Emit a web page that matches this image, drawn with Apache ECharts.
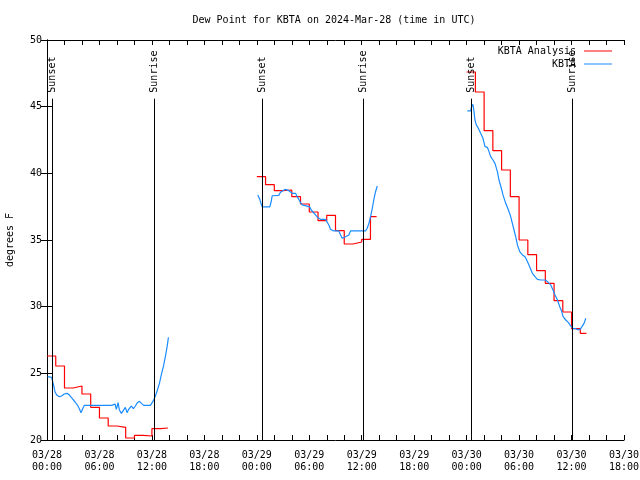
<!DOCTYPE html>
<html>
<head>
<meta charset="utf-8">
<script src="https://cdn.jsdelivr.net/npm/echarts@6/dist/echarts.min.js"></script>
<style>html,body{margin:0;padding:0;background:#fff;}#c{width:640px;height:480px;}</style>
</head>
<body>
<div id="c"></div>
<script>
// Hours since 03/28 00:00 UTC; null separates the daily segments
const analysisHours = [0,1,2,3,4,5,6,7,8,9,10,11,12,13,13.83, null,
  24,25,26,27,28,29,30,31,32,33,34,35,36,37,37.7, null,
  48,49,50,51,52,53,54,55,56,57,58,59,60,61,61.7];
const analysisValues = [26.3,25.55,23.9,24.05,23.45,22.45,21.65,21.05,20.95,20.15,20.35,20.3,20.85,20.9,20.9, null,
  39.75,39.15,38.7,38.75,38.25,37.7,37.1,36.45,36.85,35.7,34.7,34.85,35.05,36.75,36.75, null,
  47.6,46.1,43.2,41.7,40.25,38.25,35.0,33.9,32.7,31.75,30.45,29.6,28.35,28.0,28.0];

const obsHours = [0.07,0.53,0.76,0.92,1.14,1.41,1.67,1.98,2.29,2.59,2.9,3.21,3.5,3.7,3.89,4.08,4.27,7.02,7.4,7.78,7.93,8.13,8.28,8.51,8.73,8.96,9.16,9.34,9.65,9.88,10.11,10.34,10.57,10.8,11.06,11.83,12.17,12.4,12.63,12.86,13.08,13.31,13.54,13.74,13.89, null,
  24.11,24.34,24.5,24.61,25.48,25.64,25.76,26.51,26.71,26.97,27.28,27.48,27.66,27.85,28.05,28.43,28.62,28.8,29.0,29.19,29.38,30.06,30.22,30.45,30.72,30.98,31.29,31.86,32.05,32.24,32.43,32.81,33.38,33.58,33.77,33.95,34.15,34.34,34.53,34.72,36.44,36.63,36.82,37.01,37.21,37.39,37.58,37.78, null,
  48.08,48.46,48.57,48.72,48.84,48.95,49.11,49.34,49.6,49.87,50.1,50.37,50.56,50.75,51.01,51.24,51.52,51.7,51.97,52.16,52.47,52.78,53.04,53.23,53.42,53.61,53.81,54.07,54.38,54.68,54.95,55.21,55.52,55.82,56.1,56.47,56.97,57.24,57.62,57.88,58.11,58.39,58.65,58.88,59.03,59.34,59.65,59.91,60.17,60.48,60.79,61.05,61.25,61.43,61.63];
const obsValues = [24.75,24.7,24.1,23.6,23.35,23.25,23.3,23.45,23.5,23.35,23.1,22.85,22.6,22.35,22.05,22.35,22.6,22.6,22.6,22.7,22.3,22.8,22.25,22.0,22.1,22.45,22.05,22.3,22.55,22.35,22.55,22.8,22.9,22.75,22.6,22.6,22.95,23.3,23.75,24.25,24.9,25.5,26.25,27.0,27.7, null,
  38.38,38.05,37.7,37.48,37.48,37.87,38.32,38.35,38.58,38.7,38.8,38.85,38.7,38.58,38.5,38.5,38.25,38.05,37.8,37.63,37.48,37.48,37.25,37.08,36.88,36.67,36.55,36.55,36.5,36.13,35.8,35.68,35.68,35.38,35.13,35.0,35.25,35.13,35.38,35.68,35.68,35.88,36.25,36.75,37.38,38.05,38.62,39.05, null,
  44.68,44.68,45.0,45.18,44.63,44.0,43.63,43.38,43.0,42.63,42.0,41.95,41.63,41.25,41.0,40.75,40.13,39.5,38.88,38.38,37.75,37.25,36.75,36.25,35.75,35.25,34.63,34.13,33.88,33.75,33.38,33.0,32.5,32.25,32.05,32.0,32.0,31.88,31.63,31.25,30.88,30.5,30.0,29.63,29.25,29.0,28.8,28.55,28.35,28.35,28.25,28.35,28.5,28.75,29.13];

const sunHours = [0.61, 12.2, 24.57, 36.18, 48.54, 60.02];
const sunLabels = ['Sunset', 'Sunrise', 'Sunset', 'Sunrise', 'Sunset', 'Sunrise'];

const yTicks = { min: 20, max: 50, step: 5 };
const xRange = { min: 0, max: 66, tickStep: 2, labelStep: 6 };
const dayLabels = ['03/28', '03/29', '03/30'];

const FONT = '"DejaVu Sans Mono", monospace';

function pairs(xs, ys) {
  const out = [];
  for (let i = 0; i < xs.length; i++) {
    if (xs[i] === null || ys[i] === null) out.push(['-', '-']);
    else out.push([xs[i], ys[i]]);
  }
  return out;
}

function xLabel(v) {
  if (Math.abs(v % xRange.labelStep) > 1e-6) return '';
  const d = Math.floor(v / 24);
  const hr = v - d * 24;
  return dayLabels[d] + '\n' + String(hr).padStart(2, '0') + ':00';
}

const chart = echarts.init(document.getElementById('c'), null, { renderer: 'canvas' });

const axisCommon = {
  axisLine: { show: true, lineStyle: { color: '#000', width: 1 } },
  splitLine: { show: false }
};

const legendCommon = {
  right: 28, padding: 0, align: 'right', icon: 'rect', itemWidth: 28, itemHeight: 1, itemGap: 0,
  textStyle: { fontFamily: FONT, fontSize: 10, color: '#000', padding: [0, 3, 0, 0] }
};

chart.setOption({
  animation: false,
  backgroundColor: '#fff',
  textStyle: { fontFamily: FONT },
  graphic: [{
    type: 'text', x: 334, y: 20,
    style: { text: 'Dew Point for KBTA on 2024-Mar-28 (time in UTC)', align: 'center', verticalAlign: 'middle', fill: '#000', font: '10px ' + FONT }
  }],
  legend: [
    Object.assign({ data: ['KBTA Analysis'], top: 46 }, legendCommon),
    Object.assign({ data: ['KBTA'], top: 59 }, legendCommon)
  ],
  grid: { left: 47, right: 16, top: 40, bottom: 40, containLabel: false, outerBoundsMode: 'none' },
  xAxis: [
    Object.assign({}, axisCommon, {
      type: 'value', position: 'bottom', min: xRange.min, max: xRange.max, interval: xRange.tickStep,
      axisTick: { show: true, inside: true, length: 5, lineStyle: { color: '#000' } },
      axisLabel: { show: true, formatter: xLabel, color: '#000', fontFamily: FONT, fontSize: 10, lineHeight: 12, margin: 9, showMinLabel: true, showMaxLabel: true, hideOverlap: false }
    }),
    Object.assign({}, axisCommon, {
      type: 'value', position: 'top', min: xRange.min, max: xRange.max, interval: xRange.tickStep,
      axisTick: { show: true, inside: true, length: 5, lineStyle: { color: '#000' } },
      axisLabel: { show: false }
    })
  ],
  yAxis: [
    Object.assign({}, axisCommon, {
      type: 'value', position: 'left', min: yTicks.min, max: yTicks.max, interval: yTicks.step,
      axisTick: { show: true, inside: true, length: 6, lineStyle: { color: '#000' } },
      axisLabel: { color: '#000', fontFamily: FONT, fontSize: 10, margin: 5 },
      name: 'degrees F', nameLocation: 'middle', nameGap: 32, nameRotate: 90,
      nameTextStyle: { color: '#000', fontFamily: FONT, fontSize: 10 }
    }),
    Object.assign({}, axisCommon, {
      type: 'value', position: 'right', min: yTicks.min, max: yTicks.max, interval: yTicks.step,
      axisTick: { show: true, inside: true, length: 6, lineStyle: { color: '#000' } },
      axisLabel: { show: false }
    })
  ],
  series: [
    {
      name: 'KBTA Analysis', type: 'line', step: 'end', symbol: 'none', connectNulls: false,
      lineStyle: { color: '#ff0000', width: 1.2 }, itemStyle: { color: '#ff0000' },
      data: pairs(analysisHours, analysisValues), z: 3
    },
    {
      name: 'KBTA', type: 'line', symbol: 'none', connectNulls: false,
      lineStyle: { color: '#1a8cff', width: 1.2 }, itemStyle: { color: '#1a8cff' },
      data: pairs(obsHours, obsValues), z: 4
    },
    {
      name: 'sun', type: 'custom', z: 5, silent: true,
      data: sunHours.map(function (h) { return [h]; }),
      encode: { x: 0 },
      renderItem: function (params, api) {
        const h = api.value(0);
        const p0 = api.coord([h, 20]);
        const p1 = api.coord([h, 45.6]);
        const x = Math.round(p0[0]) + 0.5;
        return {
          type: 'group',
          children: [
            { type: 'line', shape: { x1: x, y1: p0[1], x2: x, y2: p1[1] }, style: { stroke: '#000', lineWidth: 1 } },
            { type: 'text', x: x, y: p1[1] - 6, rotation: Math.PI / 2,
              style: { text: sunLabels[params.dataIndex], align: 'left', verticalAlign: 'middle', fill: '#000', font: '10px ' + FONT } }
          ]
        };
      }
    }
  ]
});
</script>
</body>
</html>
